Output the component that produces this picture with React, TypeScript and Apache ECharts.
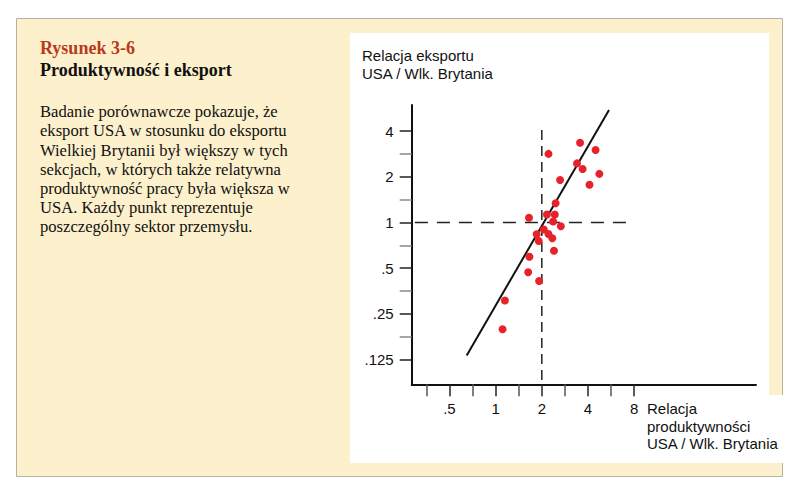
import React, { useEffect, useRef } from 'react';
import * as echarts from 'echarts';

// Relative productivity (USA / UK) per industry sector
const productivityRatio = [3.55, 4.48, 2.21, 3.39, 3.69, 4.74, 2.63, 4.09, 2.46, 2.16, 2.43, 1.65, 2.37, 2.66, 2.06, 1.85, 2.21, 2.34, 1.91, 2.40, 1.66, 1.63, 1.92, 1.15, 1.11];
// Relative exports (USA / UK) per industry sector
const exportRatio = [3.35, 3.00, 2.83, 2.45, 2.25, 2.09, 1.905, 1.774, 1.338, 1.129, 1.129, 1.075, 1.015, 0.944, 0.899, 0.836, 0.840, 0.787, 0.755, 0.652, 0.595, 0.470, 0.412, 0.306, 0.198];

// Fitted line end points
const trendProductivity = [0.648, 5.48];
const trendExport = [0.133, 5.51];

// Reference lines (x = 2, y = 1)
const hRefX = [0.298, 7.19];
const hRefY = 1;
const vRefX = 2;
const vRefY = [4.07, 0.086];

// Axis ticks (ratios)
const xTickValues = [0.5, 1, 2, 4, 8];
const xTickLabels = ['.5', '1', '2', '4', '8'];
const xMinorTicks = [0.3536, 0.7071, 1.4142, 2.8284, 5.6569];
const yTickValues = [0.125, 0.25, 0.5, 1, 2, 4];
const yTickLabels = ['.125', '.25', '.5', '1', '2', '4'];
const yMinorTicks = [0.1768, 0.3536, 0.7071, 1.4142, 2.8284];

const xRange = [0.284, 49.7];
const yRange = [0.0859, 5.94];

const L = (v: number) => Math.log2(v);

const SANS = '"Liberation Sans", Arial, sans-serif';
const SERIF = '"Liberation Serif", "Times New Roman", serif';

export default function App() {
  const ref = useRef<HTMLDivElement>(null);
  useEffect(() => {
    if (!ref.current) return;
    const chart = echarts.init(ref.current, undefined, { renderer: 'svg' });
    const xMaj = xTickValues.map(L);
    const yMaj = yTickValues.map(L);
    const fmtX = (v: number) => {
      const i = xMaj.findIndex((m) => Math.abs(m - v) < 1e-6);
      return i >= 0 ? xTickLabels[i] : '';
    };
    const fmtY = (v: number) => {
      const i = yMaj.findIndex((m) => Math.abs(m - v) < 1e-6);
      return i >= 0 ? yTickLabels[i] : '';
    };
    const xMin = L(xRange[0]);
    const xMax = L(xRange[1]);
    const yMin = L(yRange[0]);
    const yMax = L(yRange[1]);
    const option: any = {
      animation: false,
      grid: { left: 411.7, right: 44, top: 105, bottom: 113.7, containLabel: false },
      xAxis: [
        {
          type: 'value', min: xMin, max: xMax, position: 'bottom',
          axisLine: { show: true, onZero: false, lineStyle: { color: '#111', width: 2 } },
          axisTick: { show: true, customValues: xMaj, length: 12, lineStyle: { color: '#222', width: 1.5 } },
          axisLabel: { show: true, customValues: xMaj, formatter: fmtX, margin: 17, color: '#111', fontSize: 15, fontFamily: SANS },
          splitLine: { show: false },
        },
        {
          type: 'value', min: xMin, max: xMax, position: 'bottom', offset: 0,
          axisLine: { show: false, onZero: false },
          axisTick: { show: true, customValues: xMinorTicks.map(L), length: 12, lineStyle: { color: '#555', width: 1.5 } },
          axisLabel: { show: false },
          splitLine: { show: false },
        },
      ],
      yAxis: [
        {
          type: 'value', min: yMin, max: yMax, position: 'left',
          axisLine: { show: true, onZero: false, lineStyle: { color: '#111', width: 2 } },
          axisTick: { show: true, customValues: yMaj, length: 12, lineStyle: { color: '#222', width: 1.5 } },
          axisLabel: { show: true, customValues: yMaj, formatter: fmtY, margin: 18, color: '#111', fontSize: 15, fontFamily: SANS },
          splitLine: { show: false },
        },
        {
          type: 'value', min: yMin, max: yMax, position: 'left', offset: 0,
          axisLine: { show: false, onZero: false },
          axisTick: { show: true, customValues: yMinorTicks.map(L), length: 12, lineStyle: { color: '#888', width: 1.5 } },
          axisLabel: { show: false },
          splitLine: { show: false },
        },
      ],
      graphic: [
        { type: 'rect', z: -10, shape: { x: 16.5, y: 18.5, width: 766, height: 458 }, style: { fill: '#fdf0cc', stroke: '#b8b2a4', lineWidth: 1 } },
        { type: 'rect', z: -9, shape: { x: 350, y: 33, width: 419, height: 430 }, style: { fill: '#ffffff' } },
        { type: 'rect', z: -9, shape: { x: 768, y: 395, width: 16, height: 68 }, style: { fill: '#ffffff' } },
        { type: 'text', z: 10, x: 40, y: 48, style: { text: 'Rysunek 3-6', fill: '#b73b1c', font: `bold 18px ${SERIF}`, verticalAlign: 'middle' } },
        { type: 'text', z: 10, x: 40, y: 70, style: { text: 'Produktywność i eksport', fill: '#111', font: `bold 18px ${SERIF}`, verticalAlign: 'middle' } },
        {
          type: 'text', z: 10, x: 40, y: 102,
          style: {
            text: 'Badanie porównawcze pokazuje, że\neksport USA w stosunku do eksportu\nWielkiej Brytanii był większy w tych\nsekcjach, w których także relatywna\nproduktywność pracy była większa w\nUSA. Każdy punkt reprezentuje\nposzczególny sektor przemysłu.',
            fill: '#111', font: `16.6px ${SERIF}`, lineHeight: 19.2, verticalAlign: 'top',
          },
        },
        {
          type: 'text', z: 10, x: 362, y: 47,
          style: { text: 'Relacja eksportu\nUSA / Wlk. Brytania', fill: '#111', font: `15px ${SANS}`, lineHeight: 17.6, verticalAlign: 'top' },
        },
        {
          type: 'text', z: 10, x: 647, y: 400,
          style: { text: 'Relacja\nproduktywności\nUSA / Wlk. Brytania', fill: '#111', font: `15px ${SANS}`, lineHeight: 17.5, verticalAlign: 'top' },
        },
      ],
      series: [
        {
          type: 'line', xAxisIndex: 0, yAxisIndex: 0, symbol: 'none', silent: true, z: 2,
          data: [[L(hRefX[0]), L(hRefY)], [L(hRefX[1]), L(hRefY)]],
          lineStyle: { color: '#222', width: 1.5, type: [13, 9] },
        },
        {
          type: 'line', xAxisIndex: 0, yAxisIndex: 0, symbol: 'none', silent: true, z: 2,
          data: [[L(vRefX), L(vRefY[0])], [L(vRefX), L(vRefY[1])]],
          lineStyle: { color: '#222', width: 1.5, type: [10, 6] },
        },
        {
          type: 'line', xAxisIndex: 0, yAxisIndex: 0, symbol: 'none', silent: true, z: 3,
          data: trendProductivity.map((x, i) => [L(x), L(trendExport[i])]),
          lineStyle: { color: '#111', width: 2 },
        },
        {
          type: 'scatter', xAxisIndex: 0, yAxisIndex: 0, z: 4,
          symbolSize: 8,
          itemStyle: { color: '#e8222a', opacity: 1 },
          data: productivityRatio.map((x, i) => [L(x), L(exportRatio[i])]),
        },
      ],
    };
    chart.setOption(option);
    return () => chart.dispose();
  }, []);
  return <div ref={ref} style={{ position: 'absolute', left: 0, top: 0, width: 800, height: 498 }} />;
}
